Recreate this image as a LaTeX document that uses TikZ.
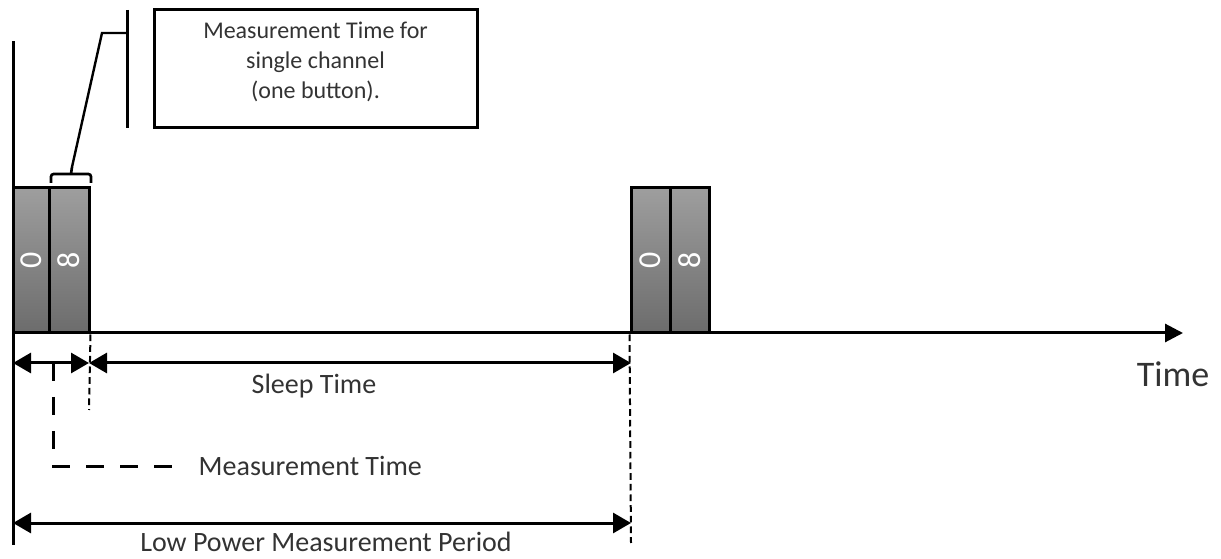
\documentclass[tikz,border=0pt]{standalone}
\usepackage{fontspec}
\setmainfont{Carlito}
\usetikzlibrary{positioning, calc, arrows.meta}
\definecolor{chantop}{RGB}{158,158,158}
\definecolor{chanbot}{RGB}{108,108,108}
\definecolor{txtgray}{RGB}{51,51,51}
\newcommand{\lblfont}{\fontsize{21}{25}\selectfont}

\begin{document}
\begin{tikzpicture}[x=0.75pt,y=-0.75pt,
    chan/.style={draw=black,line width=2.25pt,top color=chantop,bottom color=chanbot,minimum height=108.75pt,inner sep=0pt,text=white,font=\fontsize{24}{24}\selectfont},
    axis/.style={line width=2.25pt,line cap=rect},
    dim/.style={line width=2.25pt,{Triangle[length=13.5pt,width=15pt]}-{Triangle[length=13.5pt,width=15pt]}},
    thindash/.style={line width=1.5pt,dash pattern=on 5pt off 3pt},
    longdash/.style={line width=2.25pt,dash pattern=on 13.5pt off 12pt},
    lbl/.style={text=txtgray,font=\lblfont}]
      \useasboundingbox (0,0) rectangle (1221,559);

      \coordinate (Top) at (13,43);
      \coordinate (Bottom) at (13,543);
      \coordinate (Origin) at (13,333);
      \coordinate (TimeEnd) at (1183,333);

      \draw[axis] (Top) -- (Bottom);
      \draw[line width=2.25pt,-{Triangle[length=13.5pt,width=13.5pt]}] (Origin) -- (TimeEnd);
      \node[lbl,font=\fontsize{27}{30}\selectfont] (Time) at (1173,374) {Time};

      \node[chan,minimum width=27pt] (Ch0) at (31,260.5) {\rotatebox{90}{0}};
      \node[chan,minimum width=30pt] (Ch8) at (69,260.5) {\rotatebox{90}{8}};
      \node[chan,minimum width=29.25pt] (Ch0') at (650.5,260.5) {\rotatebox{90}{0}};
      \node[chan,minimum width=29.25pt] (Ch8') at (689.5,260.5) {\rotatebox{90}{8}};

      \node[draw=black,line width=2.25pt,minimum width=242.25pt,minimum height=88.5pt] (Box) at (315.5,69) {};
      \node[align=center,text=txtgray,font=\fontsize{18}{22.5}\selectfont] (BoxText) at (315.5,62) {Measurement Time for\\single channel\\(one button).};

      \coordinate (BarTop) at (127,10);
      \coordinate (BarBot) at (127,128);
      \coordinate (Elbow) at (102,33);
      \coordinate (BraceTip) at (72,167);
      \draw[line width=2.25pt] (BarTop) -- (BarBot);
      \draw[line width=1.8pt] (BraceTip) -- (Elbow) -- (Elbow -| BarTop);
      \draw[line width=2pt,rounded corners=2pt] (51,183) -- (51,174) -- (91,174) -- (91,183);
      \draw[line width=2pt] (71,174) -- (BraceTip);

      \coordinate (MeasL) at (13,363);
      \coordinate (MeasR) at (89,363);
      \coordinate (SleepR) at (631,363);
      \coordinate (PeriodL) at (13,523);
      \coordinate (PeriodR) at (631,523);
      \coordinate (MeasTick) at (53,363);

      \draw[dim] (MeasL) -- (MeasR);
      \draw[dim] (MeasR) -- (SleepR);
      \draw[dim] (PeriodL) -- (PeriodR);
      \draw[thindash] (Ch8.south east) -- (89,410);
      \draw[thindash] (Ch0'.south west) -- (631,543);

      \node[lbl] (Sleep) at (314,386) {Sleep Time};
      \node[lbl,anchor=west] (MeasLbl) at (194,466) {Measurement Time};
      \node[lbl,anchor=west,inner sep=0pt] (Period) at (140,542) {Low Power Measurement Period};

      \draw[longdash] (MeasTick) |- ([xshift=-12pt]MeasLbl.west);
    \end{tikzpicture}
\end{document}
